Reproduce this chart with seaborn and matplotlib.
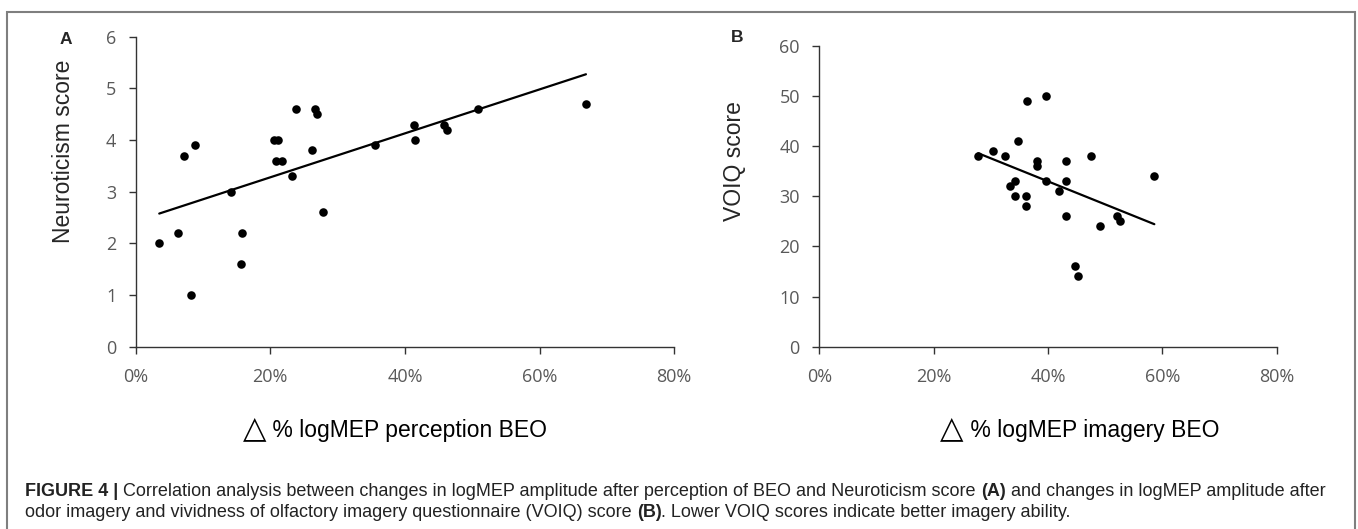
import numpy as np
import seaborn as sns
import matplotlib.pyplot as plt
from matplotlib.patches import Rectangle
from matplotlib.ticker import PercentFormatter

# panel A: % change logMEP (perception BEO) vs Neuroticism score
perc_a = [3.5, 6.3, 7.2, 8.2, 8.8, 14.1, 15.6, 15.8, 20.6, 21.2, 20.8, 21.7, 23.2,
          23.8, 26.2, 26.7, 26.9, 27.9, 35.5, 41.4, 41.5, 45.8, 46.3, 50.8, 66.9]
neuro = [2.0, 2.2, 3.7, 1.0, 3.9, 3.0, 1.6, 2.2, 4.0, 4.0, 3.6, 3.6, 3.3,
         4.6, 3.8, 4.6, 4.5, 2.6, 3.9, 4.3, 4.0, 4.3, 4.2, 4.6, 4.7]

# panel B: % change logMEP (imagery BEO) vs VOIQ score
perc_b = [27.8, 30.4, 32.5, 34.8, 34.3, 33.3, 34.3, 36.1, 36.1, 36.4, 38.1, 38.1, 39.7,
          39.7, 42.0, 43.1, 43.1, 43.1, 44.8, 45.3, 47.6, 49.1, 52.1, 52.6, 58.6]
voiq = [38, 39, 38, 41, 33, 32, 30, 30, 28, 49, 37, 36, 50,
        33, 31, 37, 33, 26, 16, 14, 38, 24, 26, 25, 34]

x_ticks = [0, 20, 40, 60, 80]

W, H = 1358, 529
sns.set_style("ticks")
plt.rcParams["font.family"] = ["Liberation Sans", "DejaVu Sans"]

fig = plt.figure(figsize=(W / 100, H / 100), dpi=100)


def px(x, y):
    return x / W, 1 - y / H


def style_axes(ax, yticks):
    ax.set_xlim(0, 80)
    ax.set_xticks(x_ticks)
    ax.xaxis.set_major_formatter(PercentFormatter(100, decimals=0))
    ax.set_ylim(yticks[0], yticks[-1])
    ax.set_yticks(yticks)
    ax.set_xlabel("")
    ax.set_ylabel("")
    sns.despine(ax=ax)
    for s in ["left", "bottom"]:
        ax.spines[s].set_color("#333333")
        ax.spines[s].set_linewidth(1.0)
    ax.tick_params(axis="both", length=5, width=1, color="#333333",
                   labelcolor="#595959", labelsize=13)
    ax.tick_params(axis="x", pad=10)
    ax.tick_params(axis="y", pad=9)
    for lab in ax.get_xticklabels() + ax.get_yticklabels():
        lab.set_family(["Open Sans", "DejaVu Sans"])


pts = dict(s=38, color="black", alpha=1, linewidths=0)
line = dict(color="black", lw=1.6)

ax_a = fig.add_axes([135.7 / W, 1 - 346.7 / H, (674.1 - 135.7) / W, (346.7 - 36.7) / H])
sns.regplot(x=perc_a, y=neuro, ci=None, ax=ax_a, scatter_kws=pts, line_kws=line)
style_axes(ax_a, [0, 1, 2, 3, 4, 5, 6])

ax_b = fig.add_axes([819.3 / W, 1 - 346.7 / H, (1276.7 - 819.3) / W, (346.7 - 45.7) / H])
sns.regplot(x=perc_b, y=voiq, ci=None, ax=ax_b, scatter_kws=pts, line_kws=line)
style_axes(ax_b, [0, 10, 20, 30, 40, 50, 60])

# y labels and panel letters
fig.text(*px(64, 151), "Neuroticism score", rotation=90, ha="center", va="center", fontsize=16.5)
fig.text(*px(735, 161), "VOIQ score", rotation=90, ha="center", va="center", fontsize=16.5)
fig.text(*px(66, 39), "A", ha="center", va="center", fontsize=12.5, fontweight="bold")
fig.text(*px(737, 38), "B", ha="center", va="center", fontsize=12.5, fontweight="bold")

renderer = fig.canvas.get_renderer()


def runs(x, y, parts, color="black"):
    # draw text pieces one after the other on a shared baseline
    cx = x
    for s, kw in parts:
        t = fig.text(cx / W, 1 - y / H, s, ha="left", va="baseline", color=color, **kw)
        bb = t.get_window_extent(renderer)
        cx += bb.width


tri = dict(fontsize=22, family=["DejaVu Sans"])
lab = dict(fontsize=16.5)
runs(243, 437, [("\u25b3", tri), (" % logMEP perception BEO", lab)])
runs(940, 437, [("\u25b3", tri), (" % logMEP imagery BEO", lab)])

cap = dict(fontsize=13)
capb = dict(fontsize=13, fontweight="bold")
runs(25, 496, [("FIGURE 4 | ", capb),
               ("Correlation analysis between changes in logMEP amplitude after perception of BEO and Neuroticism score ", cap),
               ("(A)", capb),
               (" and changes in logMEP amplitude after", cap)], color="#222222")
runs(25, 517, [("odor imagery and vividness of olfactory imagery questionnaire (VOIQ) score ", cap),
               ("(B)", capb),
               (". Lower VOIQ scores indicate better imagery ability.", cap)], color="#222222")

fig.patches.append(Rectangle(px(7, 560), (1355 - 7) / W, (560 - 12) / H, transform=fig.transFigure,
                             fill=False, ec="#7f7f7f", lw=1.5))

fig.savefig("out.png", dpi=100)
